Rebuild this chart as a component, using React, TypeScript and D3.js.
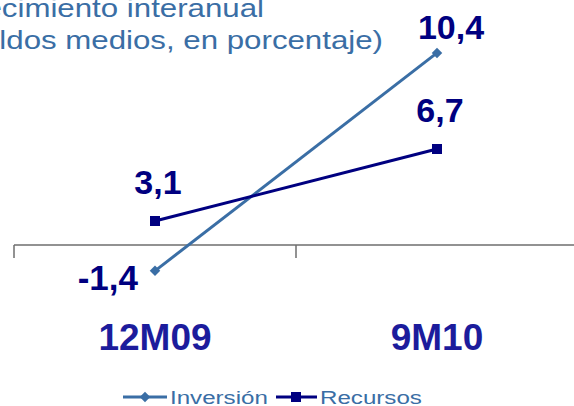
import React from "react";
import * as d3 from "d3";

const categories = ["12M09", "9M10"];
const inversion = [-1.4, 10.4];
const recursos = [3.1, 6.7];
const labelsInversion = ["-1,4", "10,4"];
const labelsRecursos = ["3,1", "6,7"];
const titleLines = ["Crecimiento interanual", "(saldos medios, en porcentaje)"];
const legendNames = ["Inversión", "Recursos"];

const W = 574;
const H = 406;
const FONT = "'Liberation Sans', Arial, sans-serif";
const C_INV = "#3A6EA5";
const C_REC = "#000080";

export default function App() {
  const xBand = d3.scaleBand<string>().domain(categories).range([14, 578]).padding(0);
  const xc = (c: string) => (xBand(c) as number) + xBand.bandwidth() / 2;
  const yInv = d3.scaleLinear().domain([0, 10]).range([245, 245 - 184.7]);
  const yRec = d3.scaleLinear().domain([0, 10]).range([283, 83]);

  const lineInv = d3.line<number>().x((_, i) => xc(categories[i])).y((d) => yInv(d));
  const lineRec = d3.line<number>().x((_, i) => xc(categories[i])).y((d) => yRec(d));
  const diamond = d3.symbol().type(d3.symbolDiamond2).size(70);

  const tickXs = [...categories.map((c) => xBand(c) as number), 578];

  return (
    <svg width={W} height={H} style={{ position: "absolute", left: 0, top: 0, display: "block" }} fontFamily={FONT}>
      <rect width={W} height={H} fill="#fff" />
      {/* Title */}
      <text transform="translate(264,17) scale(1.25,1)" fontSize={25} fill={C_INV} textAnchor="end">{titleLines[0]}</text>
      <text transform="translate(383,49) scale(1.25,1)" fontSize={25} fill={C_INV} textAnchor="end">{titleLines[1]}</text>

      {/* Axis */}
      <line x1={14} x2={578} y1={yInv(0)} y2={yInv(0)} stroke="#6e6e6e" strokeWidth={1.5} />
      {tickXs.map((t, i) => (
        <line key={i} x1={t} x2={t} y1={yInv(0)} y2={yInv(0) + 13} stroke="#6e6e6e" strokeWidth={1.5} />
      ))}
      {categories.map((c) => (
        <text key={c} x={xc(c)} y={350} textAnchor="middle" fontSize={37} fontWeight="bold" fill="#1c1c9c">{c}</text>
      ))}

      {/* Lines */}
      <path d={lineInv(inversion) as string} fill="none" stroke={C_INV} strokeWidth={3} />
      <path d={lineRec(recursos) as string} fill="none" stroke={C_REC} strokeWidth={3} />
      {inversion.map((v, i) => (
        <path key={"di" + i} d={diamond() as string} transform={`translate(${xc(categories[i])},${yInv(v)})`} fill={C_INV} />
      ))}
      {recursos.map((v, i) => (
        <rect key={"sr" + i} x={xc(categories[i]) - 5} y={yRec(v) - 5} width={10} height={10} fill={C_REC} />
      ))}

      {/* Data labels */}
      {inversion.map((v, i) => {
        const x = xc(categories[i]);
        const y = yInv(v);
        return v < 0 ? (
          <text key={"li" + i} x={x - 17} y={y + 19} textAnchor="end" fontSize={35} fontWeight="bold" fill={C_REC}>{labelsInversion[i]}</text>
        ) : (
          <text key={"li" + i} x={x + 14} y={y - 14} textAnchor="middle" fontSize={34} fontWeight="bold" fill={C_REC}>{labelsInversion[i]}</text>
        );
      })}
      {recursos.map((v, i) => (
        <text key={"lr" + i} x={xc(categories[i]) + 3} y={yRec(v) - 27} textAnchor="middle" fontSize={34} fontWeight="bold" fill={C_REC}>{labelsRecursos[i]}</text>
      ))}

      {/* Legend */}
      <g>
        <line x1={123} x2={167} y1={397} y2={397} stroke={C_INV} strokeWidth={3} />
        <path d={diamond() as string} transform="translate(145,397)" fill={C_INV} />
        <text transform="translate(170,404) scale(1.27,1)" fontSize={19} fill={C_INV}>{legendNames[0]}</text>
        <line x1={276} x2={317} y1={397} y2={397} stroke={C_REC} strokeWidth={3} />
        <rect x={291} y={392} width={10} height={10} fill={C_REC} />
        <text transform="translate(320,404) scale(1.27,1)" fontSize={19} fill={C_INV}>{legendNames[1]}</text>
      </g>
    </svg>
  );
}
